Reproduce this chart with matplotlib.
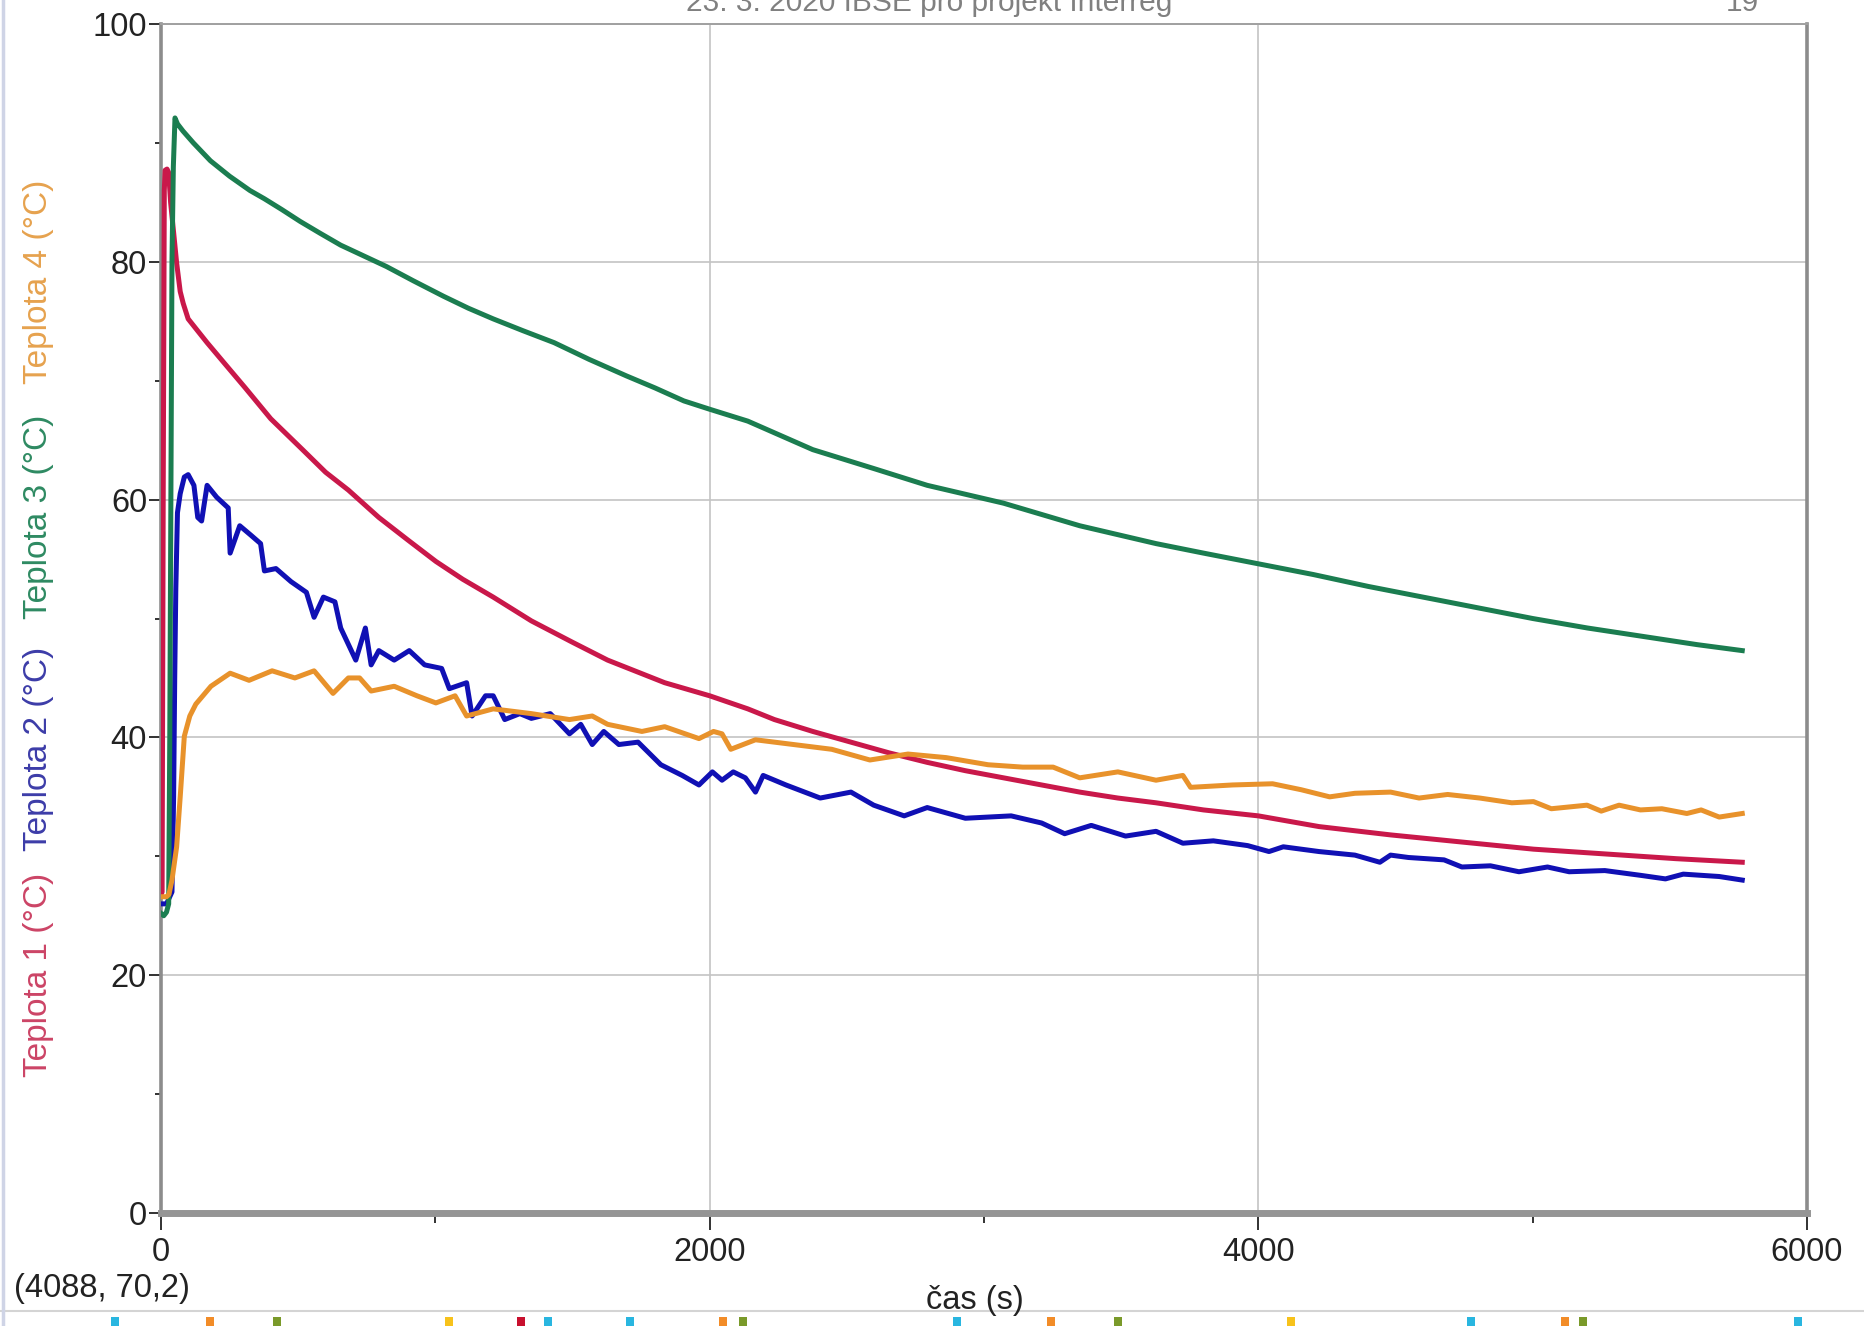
import matplotlib
matplotlib.use("Agg")
import matplotlib.pyplot as plt
from matplotlib.lines import Line2D
from matplotlib.patches import Rectangle

plt.rcParams['font.family'] = ['Liberation Sans', 'DejaVu Sans']

# --- data (time in s, temperature in °C) ---
t1 = [0, 4, 8, 12, 15, 22, 28, 35, 45, 57, 70, 81, 99, 130, 168, 230, 307, 400, 516, 600,
      683, 794, 900, 1002, 1100, 1211, 1350, 1500, 1628, 1836, 2000, 2139, 2236, 2376, 2515,
      2654, 2793, 2932, 3071, 3210, 3349, 3488, 3627, 3800, 4000, 4221, 4482, 4742, 5003,
      5263, 5523, 5764]
teplota1 = [26.8, 27, 60, 86, 87.7, 87.8, 87.5, 85, 82.7, 79.9, 77.5, 76.5, 75.2, 74.3, 73.2,
            71.5, 69.4, 66.8, 64.2, 62.3, 60.8, 58.5, 56.6, 54.8, 53.3, 51.8, 49.8, 48.0, 46.5,
            44.6, 43.5, 42.4, 41.5, 40.5, 39.6, 38.7, 37.9, 37.2, 36.6, 36.0, 35.4, 34.9, 34.5,
            33.9, 33.4, 32.5, 31.8, 31.2, 30.6, 30.2, 29.8, 29.5]

t2 = [0, 20, 40, 46, 50, 54, 60, 70, 85, 99, 120, 134, 148, 168, 203, 245, 252, 287, 328, 363,
      377, 419, 474, 530, 558, 592, 634, 655, 710, 745, 766, 794, 850, 905, 961, 1023, 1051,
      1114, 1134, 1183, 1211, 1253, 1308, 1350, 1419, 1489, 1530, 1572, 1614, 1669, 1739,
      1822, 1900, 1961, 2010, 2045, 2086, 2130, 2167, 2195, 2278, 2403, 2515, 2598, 2709,
      2793, 2932, 3099, 3210, 3294, 3391, 3516, 3627, 3725, 3836, 3961, 4039, 4091, 4221,
      4352, 4443, 4482, 4547, 4677, 4742, 4846, 4950, 5054, 5133, 5263, 5393, 5484, 5549,
      5680, 5764]
teplota2 = [26, 26, 27, 35, 45, 52.5, 58.9, 60.5, 61.9, 62.1, 61.2, 58.5, 58.2, 61.2, 60.2,
            59.3, 55.5, 57.8, 57.0, 56.3, 54.0, 54.2, 53.1, 52.2, 50.1, 51.8, 51.4, 49.2, 46.5,
            49.2, 46.1, 47.3, 46.5, 47.3, 46.1, 45.8, 44.1, 44.6, 41.8, 43.5, 43.5, 41.5, 42.0,
            41.6, 42.0, 40.3, 41.1, 39.4, 40.5, 39.4, 39.6, 37.7, 36.8, 36.0, 37.1, 36.4, 37.1,
            36.6, 35.4, 36.8, 36.0, 34.9, 35.4, 34.3, 33.4, 34.1, 33.2, 33.4, 32.8, 31.9, 32.6,
            31.7, 32.1, 31.1, 31.3, 30.9, 30.4, 30.8, 30.4, 30.1, 29.5, 30.1, 29.9, 29.7, 29.1,
            29.2, 28.7, 29.1, 28.7, 28.8, 28.4, 28.1, 28.5, 28.3, 28.0]

t3 = [0, 10, 20, 28, 32, 36, 40, 45, 51, 60, 80, 118, 180, 250, 324, 377, 440, 507, 580, 655,
      720, 822, 920, 1030, 1120, 1211, 1320, 1433, 1560, 1697, 1800, 1906, 2000, 2139, 2376,
      2600, 2793, 3071, 3349, 3627, 3800, 4000, 4200, 4400, 4600, 4800, 5000, 5200, 5400,
      5600, 5764]
teplota3 = [25.2, 25.0, 25.3, 26, 40, 60, 80, 88, 92.1, 91.6, 91, 90, 88.5, 87.2, 86.0, 85.3,
            84.4, 83.4, 82.4, 81.4, 80.7, 79.6, 78.4, 77.1, 76.1, 75.2, 74.2, 73.2, 71.8, 70.4,
            69.4, 68.3, 67.6, 66.6, 64.2, 62.6, 61.2, 59.7, 57.8, 56.3, 55.5, 54.6, 53.7, 52.7,
            51.8, 50.9, 50.0, 49.2, 48.5, 47.8, 47.3]

t4 = [0, 20, 29, 40, 57, 70, 85, 105, 127, 182, 252, 321, 405, 488, 558, 627, 683, 724, 766,
      850, 933, 1002, 1072, 1114, 1211, 1350, 1489, 1572, 1628, 1753, 1836, 1961, 2014, 2045,
      2077, 2167, 2306, 2445, 2584, 2723, 2862, 3015, 3141, 3252, 3349, 3488, 3627, 3725,
      3753, 3906, 4052, 4156, 4260, 4352, 4482, 4586, 4690, 4807, 4924, 5003, 5068, 5198,
      5250, 5315, 5393, 5471, 5562, 5614, 5680, 5764]
teplota4 = [26.6, 26.6, 26.8, 28, 30.8, 35, 40.1, 41.8, 42.8, 44.3, 45.4, 44.8, 45.6, 45.0,
            45.6, 43.7, 45.0, 45.0, 43.9, 44.3, 43.5, 42.9, 43.5, 41.8, 42.4, 42.0, 41.5, 41.8,
            41.1, 40.5, 40.9, 39.9, 40.5, 40.3, 39.0, 39.8, 39.4, 39.0, 38.1, 38.6, 38.3, 37.7,
            37.5, 37.5, 36.6, 37.1, 36.4, 36.8, 35.8, 36.0, 36.1, 35.6, 35.0, 35.3, 35.4, 34.9,
            35.2, 34.9, 34.5, 34.6, 34.0, 34.3, 33.8, 34.3, 33.9, 34.0, 33.6, 33.9, 33.3, 33.6]

labels = ['Teplota 1 (°C)', 'Teplota 2 (°C)', 'Teplota 3 (°C)', 'Teplota 4 (°C)']
colors = ['#c9184a', '#1010b4', '#1b7d50', '#e8922b']
label_colors = ['#cc4466', '#3c3ca8', '#2e8a62', '#e6a24e']

x_ticks = [0, 2000, 4000, 6000]
y_ticks = [0, 20, 40, 60, 80, 100]

# slide decoration strip at the bottom (x in pixels, colour)
strip_x = [115, 210, 277, 449, 521, 548, 630, 723, 743, 957, 1051, 1118, 1291, 1471, 1565, 1583, 1798]
strip_c = ['#29b6e0', '#f28c28', '#7a9a2a', '#f7c21b', '#c8102e', '#29b6e0', '#29b6e0', '#f28c28',
           '#7a9a2a', '#29b6e0', '#f28c28', '#7a9a2a', '#f7c21b', '#29b6e0', '#f28c28', '#7a9a2a',
           '#29b6e0']

W, H = 1864, 1326
fig = plt.figure(figsize=(W / 100, H / 100), dpi=100)
ax = fig.add_axes([161 / W, 1 - 1213 / H, (1807 - 161) / W, (1213 - 24) / H])

series = [(t1, teplota1), (t2, teplota2), (t3, teplota3), (t4, teplota4)]
for (t, v), c in zip(series, colors):
    ax.plot(t, v, color=c, lw=3.6, solid_joinstyle='round', zorder=3)

ax.set_xlim(0, 6000)
ax.set_ylim(0, 100)
ax.set_xticks(x_ticks)
ax.set_yticks(y_ticks)
ax.set_xticks([1000, 3000, 5000], minor=True)
ax.set_yticks([10, 30, 50, 70, 90], minor=True)
ax.tick_params(axis='both', which='major', labelsize=23.5, colors='#222222', width=1.3)
ax.tick_params(axis='y', which='major', length=9, pad=1)
ax.tick_params(axis='y', which='minor', length=4, width=1.3, color='#222222')
ax.tick_params(axis='x', which='major', length=12, pad=5)
ax.tick_params(axis='x', which='minor', length=7, width=1.3, color='#222222')

ax.grid(True, which='major', color='#c4c4c4', lw=1.2, zorder=0)
ax.set_axisbelow(True)

for side in ['left', 'right']:
    ax.spines[side].set_color('#8c8c8c')
    ax.spines[side].set_linewidth(2.6)
ax.spines['top'].set_color('#a0a0a0')
ax.spines['top'].set_linewidth(1.4)
ax.spines['bottom'].set_color('#959595')
ax.spines['bottom'].set_linewidth(5)

# stacked coloured y-axis labels
label_y = [975, 749, 517, 282]
for lab, c, yy in zip(labels, label_colors, label_y):
    fig.text(39 / W, 1 - yy / H, lab, rotation=90, ha='center', va='center', fontsize=24, color=c)

fig.text(975 / W, 1 - 1300 / H, 'čas (s)', ha='center', va='center', fontsize=23.5, color='#222222')
fig.text(14 / W, 1 - 1288 / H, '(4088, 70,2)', ha='left', va='center', fontsize=23.5, color='#222222')

# slide header, cut by the top edge as in the slide
fig.text(929 / W, 1 - 11 / H, '23. 3. 2020 IBSE pro projekt Interreg', ha='center', va='baseline',
         fontsize=21.5, color='#808080')
fig.text(1742 / W, 1 - 11 / H, '19', ha='center', va='baseline', fontsize=21.5, color='#808080')

# slide frame bits
fig.add_artist(Line2D([0, 1], [1 - 1311 / H, 1 - 1311 / H], transform=fig.transFigure, color='#d4d4d4', lw=1.5))
fig.add_artist(Line2D([3 / W, 3 / W], [0, 1], transform=fig.transFigure, color='#cfd4e6', lw=2.5))
for sx, sc in zip(strip_x, strip_c):
    fig.add_artist(Rectangle(((sx - 4) / W, 0), 8 / W, 9 / H, transform=fig.transFigure,
                             facecolor=sc, edgecolor='none'))

fig.savefig('out.png', dpi=100)
